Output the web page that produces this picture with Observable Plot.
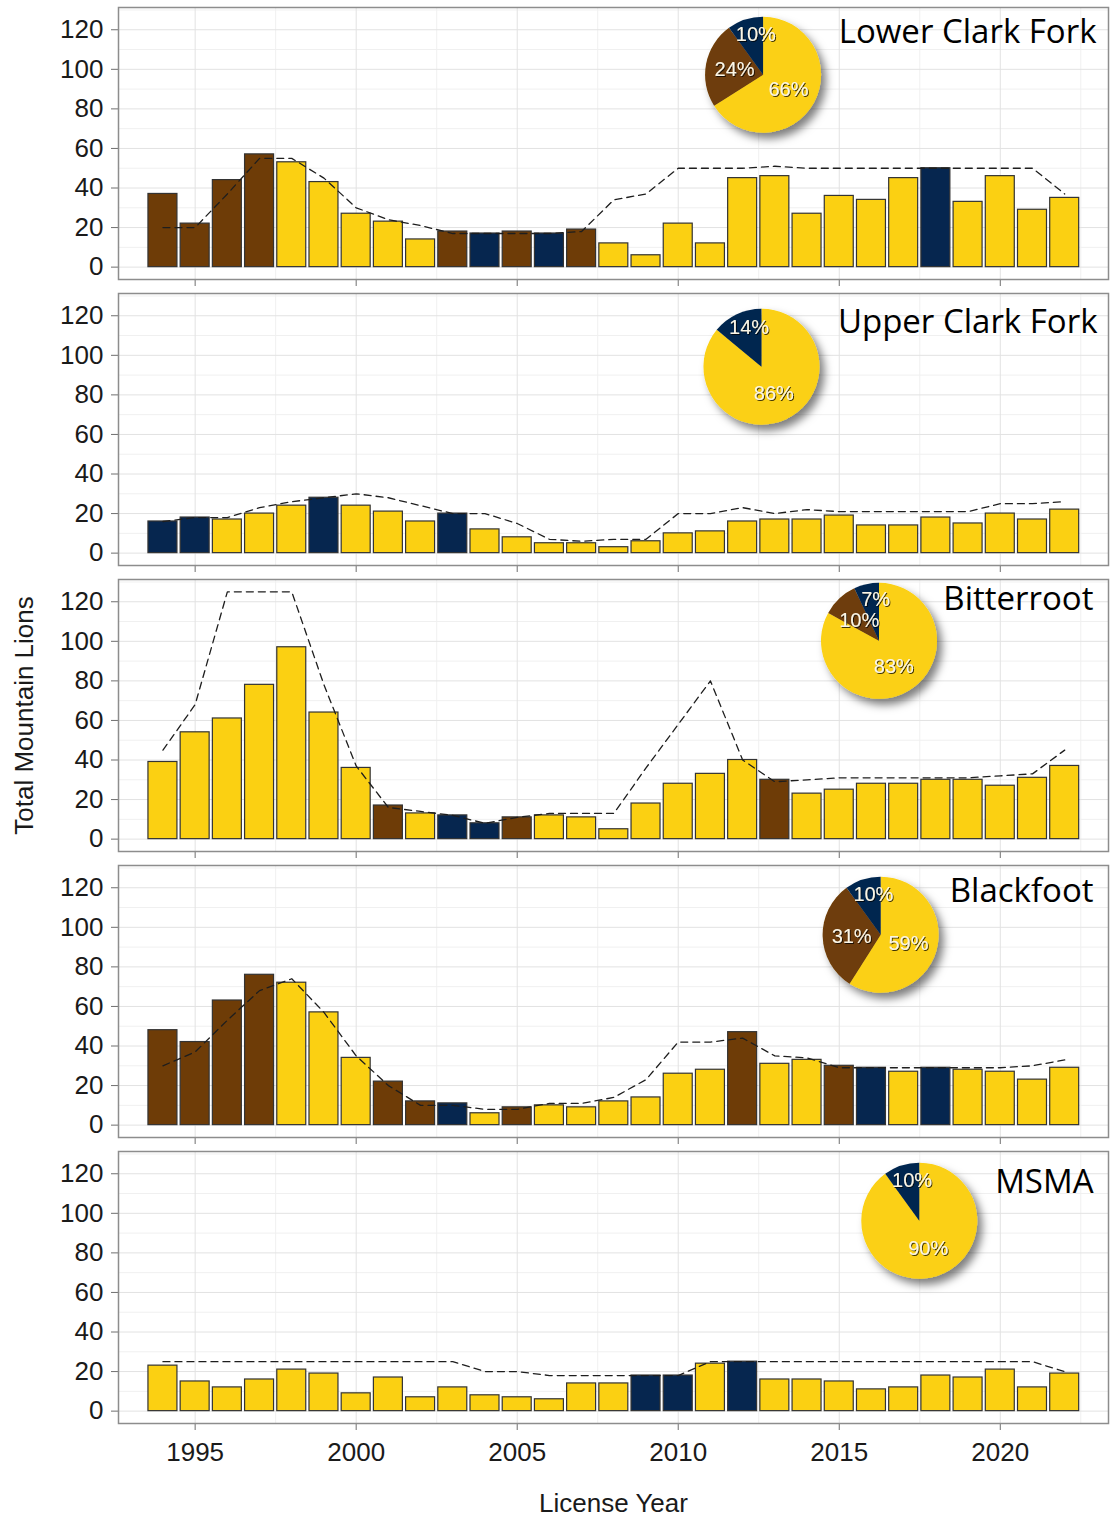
<!DOCTYPE html>
<html>
<head>
<meta charset="utf-8">
<script src="https://cdn.jsdelivr.net/npm/d3@7"></script>
<script src="https://cdn.jsdelivr.net/npm/@observablehq/plot@0.6"></script>
<style>
  body { margin: 0; background: #fff; }
  #chart { width: 1110px; }
  #chart svg { display: block; }
  #chart g[aria-label="x-axis"] line, #chart g[aria-label="y-axis"] line,
  #chart g[aria-label="x-axis tick"] path, #chart g[aria-label="y-axis tick"] path { stroke: #6f6f6f; }
</style>
</head>
<body>
<div id="chart"></div>
<script>
// ---------- data ----------
const years = [1994,1995,1996,1997,1998,1999,2000,2001,2002,2003,2004,2005,2006,2007,2008,2009,2010,2011,2012,2013,2014,2015,2016,2017,2018,2019,2020,2021,2022];
const regionNames = ["Lower Clark Fork", "Upper Clark Fork", "Bitterroot", "Blackfoot", "MSMA"];

// category of each year's bar: "Y" (yellow), "B" (brown), "N" (navy)
const catDomain = ["Y", "B", "N"];
const catColors = ["#FBD012", "#6E3C07", "#06264F"];

// Lower Clark Fork
const harvestLCF = [37,22,44,57,53,43,27,23,14,18,17,18,17,19,12,6,22,12,45,46,27,36,34,45,50,33,46,29,35];
const quotaLCF   = [20,20,37,55,55,45,30,24,21,17,17,17,17,18,34,37,50,50,50,51,50,50,50,50,50,50,50,50,37];
const typeLCF    = ["B","B","B","B","Y","Y","Y","Y","Y","B","N","B","N","B","Y","Y","Y","Y","Y","Y","Y","Y","Y","Y","N","Y","Y","Y","Y"];
const pieLCF     = [{cat: "Y", pct: 66}, {cat: "B", pct: 24}, {cat: "N", pct: 10}];

// Upper Clark Fork
const harvestUCF = [16,18,17,20,24,28,24,21,16,20,12,8,5,5,3,6,10,11,16,17,17,19,14,14,18,15,20,17,22];
const quotaUCF   = [16,18,18,23,26,28,30,28,24,20,20,15,7,6,7,7,20,20,23,20,22,21,21,21,21,21,25,25,26];
const typeUCF    = ["N","N","Y","Y","Y","N","Y","Y","Y","N","Y","Y","Y","Y","Y","Y","Y","Y","Y","Y","Y","Y","Y","Y","Y","Y","Y","Y","Y"];
const pieUCF     = [{cat: "Y", pct: 86}, {cat: "N", pct: 14}];

// Bitterroot
const harvestBIT = [39,54,61,78,97,64,36,17,13,12,8,11,12,11,5,18,28,33,40,30,23,25,28,28,30,30,27,31,37];
const quotaBIT   = [45,68,125,125,125,78,37,16,14,12,8,11,13,13,13,36,58,80,40,29,30,31,31,31,31,31,32,33,45];
const typeBIT    = ["Y","Y","Y","Y","Y","Y","Y","B","Y","N","N","B","Y","Y","Y","Y","Y","Y","Y","B","Y","Y","Y","Y","Y","Y","Y","Y","Y"];
const pieBIT     = [{cat: "Y", pct: 83}, {cat: "B", pct: 10}, {cat: "N", pct: 7}];

// Blackfoot
const harvestBLK = [48,42,63,76,72,57,34,22,12,11,6,9,10,9,12,14,26,28,47,31,33,30,29,27,29,28,27,23,29];
const quotaBLK   = [30,37,53,68,74,57,35,20,10,10,8,8,11,11,14,23,42,42,44,35,34,29,29,29,29,29,29,30,33];
const typeBLK    = ["B","B","B","B","Y","Y","Y","B","B","N","Y","B","Y","Y","Y","Y","Y","Y","B","Y","Y","B","N","Y","N","Y","Y","Y","Y"];
const pieBLK     = [{cat: "Y", pct: 59}, {cat: "B", pct: 31}, {cat: "N", pct: 10}];

// MSMA
const harvestMSMA = [23,15,12,16,21,19,9,17,7,12,8,7,6,14,14,18,18,24,25,16,16,15,11,12,18,17,21,12,19];
const quotaMSMA   = [25,25,25,25,25,25,25,25,25,25,20,20,18,18,18,18,18,25,25,25,25,25,25,25,25,25,25,25,20];
const typeMSMA    = ["Y","Y","Y","Y","Y","Y","Y","Y","Y","Y","Y","Y","Y","Y","Y","N","N","Y","N","Y","Y","Y","Y","Y","Y","Y","Y","Y","Y"];
const pieMSMA     = [{cat: "Y", pct: 90}, {cat: "N", pct: 10}];

// tick / grid values
const xTicks = [1995, 2000, 2005, 2010, 2015, 2020];
const xMinor = [1997.5, 2002.5, 2007.5, 2012.5, 2017.5, 2022.5];
const yTicks = [0, 20, 40, 60, 80, 100, 120];
const yMinor = [10, 30, 50, 70, 90, 110, 130];

// ---------- layout (not data) ----------
const pieCenters = [[2012.65, 97], [2012.6, 94], [2016.25, 100], [2016.3, 96], [2017.5, 96]]; // in data units
const titleDx = [-12, -11, -15, -15, -15];
const titleDy = [35, 39, 30, 36, 41];

const panels = [
  {name: regionNames[0], values: harvestLCF, quota: quotaLCF, cats: typeLCF, pie: pieLCF},
  {name: regionNames[1], values: harvestUCF, quota: quotaUCF, cats: typeUCF, pie: pieUCF},
  {name: regionNames[2], values: harvestBIT, quota: quotaBIT, cats: typeBIT, pie: pieBIT},
  {name: regionNames[3], values: harvestBLK, quota: quotaBLK, cats: typeBLK, pie: pieBLK},
  {name: regionNames[4], values: harvestMSMA, quota: quotaMSMA, cats: typeMSMA, pie: pieMSMA}
];

function pieMark(slices, center, idx) {
  return (index, scales) => {
    const cx = scales.x(center[0]), cy = scales.y(center[1]);
    const r = 58;
    const g = d3.create("svg:g").attr("transform", `translate(${cx},${cy})`);
    const defs = g.append("defs");
    const f1 = defs.append("filter").attr("id", "pieShadow" + idx)
      .attr("x", "-40%").attr("y", "-40%").attr("width", "190%").attr("height", "190%");
    f1.append("feDropShadow").attr("dx", 5).attr("dy", 6).attr("stdDeviation", 4)
      .attr("flood-color", "#000").attr("flood-opacity", 0.5);
    const f2 = defs.append("filter").attr("id", "txtShadow" + idx)
      .attr("x", "-30%").attr("y", "-30%").attr("width", "160%").attr("height", "160%");
    f2.append("feDropShadow").attr("dx", 1).attr("dy", 1).attr("stdDeviation", 0.7)
      .attr("flood-color", "#000").attr("flood-opacity", 0.75);
    const arcs = d3.pie().sort(null).value(d => d.pct)(slices);
    const n = arcs.length;
    const arc = d3.arc().innerRadius(0).outerRadius(r);
    // label placement: last (top-left) slice near the rim, rotated slightly toward the top; others at half radius
    const lab = (d, i) => {
      const lastSlice = i === n - 1;
      const a = (d.startAngle + d.endAngle) / 2 + (lastSlice ? 0.14 : 0);
      const f = lastSlice ? 0.72 : 0.5;
      return [Math.sin(a) * r * f, -Math.cos(a) * r * f];
    };
    g.append("g").attr("filter", `url(#pieShadow${idx})`)
      .selectAll("path").data(arcs).join("path")
      .attr("d", arc)
      .attr("fill", d => scales.color(d.data.cat));
    g.append("g").attr("filter", `url(#txtShadow${idx})`)
      .selectAll("text").data(arcs).join("text")
      .attr("x", (d, i) => lab(d, i)[0])
      .attr("y", (d, i) => lab(d, i)[1])
      .attr("text-anchor", "middle")
      .attr("dominant-baseline", "central")
      .attr("fill", "#fbf6e6")
      .attr("font-family", "'Liberation Sans', Arial, sans-serif")
      .attr("font-size", 20)
      .text(d => `${d.data.pct}%`);
    return g.node();
  };
}

const chart = document.getElementById("chart");
panels.forEach((p, i) => {
  const last = i === panels.length - 1;
  const rows = years.map((year, j) => ({year, value: p.values[j], quota: p.quota[j], cat: p.cats[j]}));
  const svg = Plot.plot({
    width: 1110,
    height: last ? 376 : 286,
    marginLeft: 118,
    marginRight: 2,
    marginTop: 7,
    marginBottom: last ? 97 : 7,
    style: {fontFamily: "'Liberation Sans', Arial, sans-serif", fontSize: "26px", color: "#1a1a1a", background: "#fff", overflow: "visible"},
    x: {domain: [1992.62, 2023.36], ticks: xTicks, tickFormat: last ? "d" : () => "", tickSize: 7, tickPadding: 12,
        label: last ? "License Year" : null, labelAnchor: "center", labelOffset: 88, labelArrow: false},
    y: {domain: [-6.25, 131.25], ticks: yTicks, tickSize: 7, tickPadding: 8,
        label: i === 2 ? "Total Mountain Lions" : null, labelAnchor: "center", labelOffset: 104, labelArrow: false},
    color: {type: "ordinal", domain: catDomain, range: catColors},
    marks: [
      Plot.ruleX(xMinor, {stroke: "#f0f0f0", strokeWidth: 1}),
      Plot.ruleY(yMinor, {stroke: "#f0f0f0", strokeWidth: 1}),
      Plot.ruleX(xTicks, {stroke: "#e2e2e2", strokeWidth: 1}),
      Plot.ruleY(yTicks, {stroke: "#e2e2e2", strokeWidth: 1}),
      Plot.rect(rows, {x1: d => d.year - 0.45, x2: d => d.year + 0.45, y1: 0, y2: "value", fill: "cat", stroke: "#333", strokeWidth: 1.2}),
      Plot.line(rows, {x: "year", y: "quota", stroke: "#1e1e1e", strokeWidth: 1.3, strokeDasharray: "7,5"}),
      Plot.frame({stroke: "#8d8d8d", strokeWidth: 1.5}),
      pieMark(p.pie, pieCenters[i], i),
      Plot.text([p.name], {frameAnchor: "top-right", text: d => d, dx: titleDx[i], dy: titleDy[i], lineAnchor: "bottom",
        fontFamily: "'Open Sans', 'Noto Sans', sans-serif", fontSize: 33, fill: "#000"})
    ]
  });
  chart.appendChild(svg);
});
</script>
</body>
</html>
